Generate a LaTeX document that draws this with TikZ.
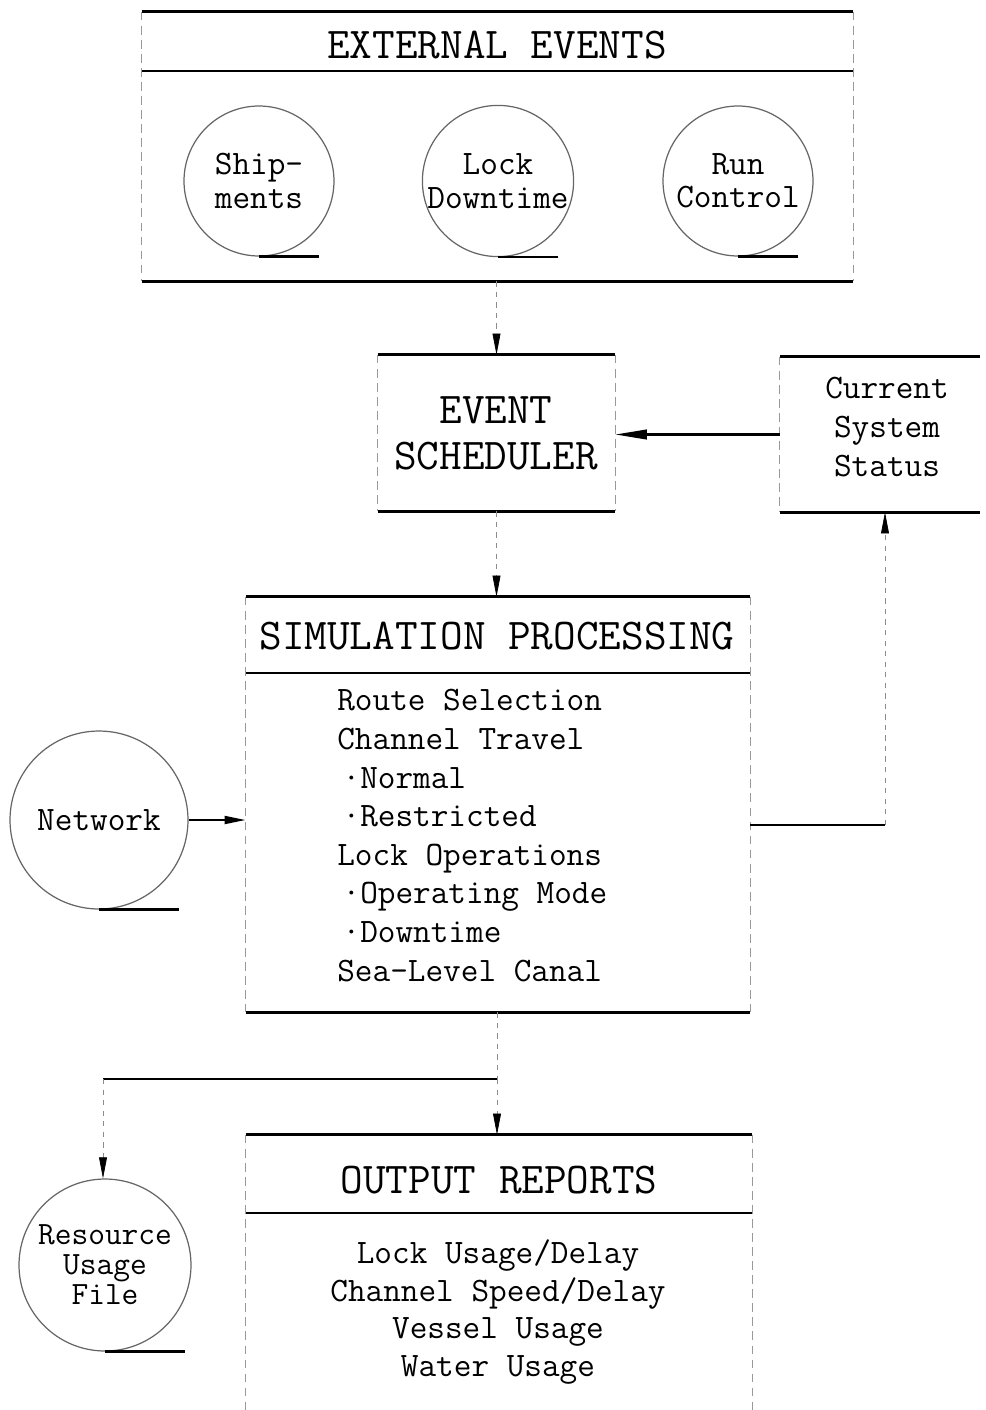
\documentclass[tikz,border=0pt]{standalone}
\usetikzlibrary{arrows.meta}
\newcommand{\hdfont}{\ttfamily\fontsize{25}{26}\selectfont}
\newcommand{\txfont}{\ttfamily\fontsize{19.5}{22}\selectfont}
\begin{document}
\begin{tikzpicture}[x=0.02cm, y=-0.02cm,
        rule/.style={line width=1.4pt, black},
        side/.style={black!40, thin, dash pattern=on 5pt off 3pt},
        block/.style={rectangle, inner sep=0pt},
        store/.style={circle, draw=black!60, line width=0.7pt, inner sep=0pt,
            align=center, font=\ttfamily\fontsize{19.5}{19}\selectfont},
        hd/.style={font=\hdfont, align=center, inner sep=0pt},
        tx/.style={font=\txfont, inner sep=0pt},
        hwire/.style={line width=1.2pt, black},
        vwire/.style={black!45, thin, dashed},
        flow/.style={-{Triangle[length=12pt, width=4.5pt, color=black]}}]
    \useasboundingbox (0,0) rectangle (985,1410);

    % -- external events -----------------------------------------------------
    \node[block, minimum width=14.22cm, minimum height=5.38cm] (ext) at (497.5,146.5) {};
    \coordinate (exthead) at (497.5,71);
    \draw[rule] (ext.north west) -- (ext.north east);
    \draw[rule] (ext.west |- exthead) -- (ext.east |- exthead);
    \draw[rule] (ext.south west) -- (ext.south east);
    \draw[side] (ext.north west) -- (ext.south west);
    \draw[side] (ext.north east) -- (ext.south east);
    \node[hd] (exttitle) at (497,45) {EXTERNAL EVENTS};

    \node[store, minimum size=3cm] (ship)   at (259,181) {Ship-\\ments};
    \node[store, minimum size=3cm] (lockdn) at (498,181) {Lock\\Downtime};
    \node[store, minimum size=3cm] (runctl) at (738,181) {Run\\Control};
    \foreach \s in {ship, lockdn, runctl} {
        \draw[rule] (\s.south) -- ++(60,0);
    }

    % -- event scheduler and system status -----------------------------------
    \node[block, minimum width=4.74cm, minimum height=3.12cm] (sched) at (496.5,433) {};
    \draw[rule] (sched.north west) -- (sched.north east);
    \draw[rule] (sched.south west) -- (sched.south east);
    \draw[side] (sched.north west) -- (sched.south west);
    \draw[side] (sched.north east) -- (sched.south east);
    \node[hd] (schedtxt) at (496,433) {EVENT\\SCHEDULER};

    \node[block, minimum width=4cm, minimum height=3.1cm] (cur) at (880,434.5) {};
    \draw[rule] (cur.north west) -- (cur.north east);
    \draw[rule] (cur.south west) -- (cur.south east);
    \draw[side] (cur.north west) -- (cur.south west);
    \node[tx, align=center] (curtxt) at (887,427) {Current\\System\\Status};

    % -- simulation processing -----------------------------------------------
    \node[block, minimum width=10.08cm, minimum height=8.3cm] (sim) at (498,804.5) {};
    \coordinate (simhead) at (498,673);
    \draw[rule] (sim.north west) -- (sim.north east);
    \draw[rule] (sim.west |- simhead) -- (sim.east |- simhead);
    \draw[rule] (sim.south west) -- (sim.south east);
    \draw[side] (sim.north west) -- (sim.south west);
    \draw[side] (sim.north east) -- (sim.south east);
    \node[hd] (simtitle) at (497,636) {SIMULATION PROCESSING};
    \node[tx, align=left, anchor=north west] (simlist) at (337,689)
        {Route Selection\\Channel Travel\\\hspace*{3pt}·Normal\\\hspace*{3pt}·Restricted\\Lock Operations\\%
         \hspace*{3pt}·Operating Mode\\\hspace*{3pt}·Downtime\\Sea-Level Canal};

    \node[store, minimum size=3.56cm] (net) at (99,820) {Network};
    \draw[rule] (net.south) -- ++(80,0);

    % -- output reports ------------------------------------------------------
    \node[block, minimum width=10.12cm, minimum height=5.5cm] (out) at (499,1272.5) {};
    \coordinate (outhead) at (499,1213);
    \draw[rule] (out.north west) -- (out.north east);
    \draw[rule] (out.west |- outhead) -- (out.east |- outhead);
    \draw[side] (out.north west) -- (out.south west);
    \draw[side] (out.north east) -- (out.south east);
    \node[hd] (outtitle) at (499,1180) {OUTPUT REPORTS};
    \node[tx, align=center, font=\ttfamily\fontsize{19.5}{21.6}\selectfont] (outlist) at (498,1312)
        {Lock Usage/Delay\\Channel Speed/Delay\\Vessel Usage\\Water Usage};

    \node[store, minimum size=3.44cm, font=\ttfamily\fontsize{18.5}{17}\selectfont] (res) at (105,1265)
        {Resource\\Usage\\File};
    \draw[rule] (res.south) -- ++(80,0);

    % -- connectors ----------------------------------------------------------
    \draw[vwire, flow] (ext.south -| sched.north) -- (sched.north);
    \draw[hwire, -{Triangle[length=18pt, width=5.5pt]}] (cur.west) -- (sched.east |- cur.west);
    \draw[vwire, flow] (sched.south) -- (sim.north -| sched.south);
    \draw[hwire, flow] (net.east) -- (sim.west |- net.east);

    \coordinate (simtap) at (885,825);
    \draw[hwire] (sim.east |- simtap) -- (simtap);
    \draw[vwire, flow] (simtap) -- (simtap |- cur.south);

    \coordinate (split) at (497,1079);
    \coordinate (splitl) at (103,1079);
    \draw[vwire] (sim.south -| split) -- (split);
    \draw[hwire] (splitl) -- (split);
    \draw[vwire, flow] (split) -- (out.north -| split);
    \draw[vwire, flow] (splitl) -- (res.north -| splitl);
\end{tikzpicture}
\end{document}
